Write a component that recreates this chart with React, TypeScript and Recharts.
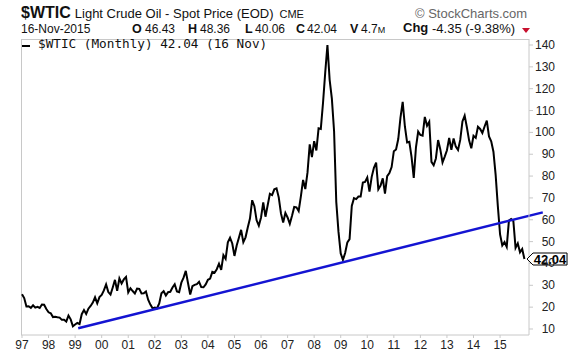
import React from 'react';
import { LineChart, Line, XAxis, YAxis, ReferenceLine, ReferenceDot } from 'recharts';

// month-end closes, Dec 1996 .. Nov 2015 (position 0 = Dec 1996 / start of 1997)
const monthlyCloses = [
  25.92,
  24.15, 20.3, 20.41, 19.68, 20.86, 19.8, 20.14, 19.61, 21.18, 21.08, 19.15, 17.64, // 97
  17.21, 15.44, 15.61, 15.39, 15.2, 14.18, 14.21, 13.39, 16.14, 14.42, 11.22, 12.05, // 98
  12.75, 12.27, 16.76, 18.66, 16.84, 19.29, 20.53, 22.1, 24.51, 21.75, 24.59, 25.6, // 99
  27.64, 30.43, 26.9, 25.74, 29.01, 32.5, 27.43, 33.12, 30.84, 32.7, 33.82, 26.8, // 00
  28.66, 27.39, 26.29, 28.46, 28.37, 26.25, 26.35, 27.2, 23.43, 21.18, 19.44, 19.84, // 01
  19.48, 21.74, 26.31, 27.29, 25.31, 26.86, 27.02, 28.98, 30.45, 27.22, 26.89, 31.2, // 02
  33.51, 36.6, 31.04, 25.8, 29.56, 30.19, 30.54, 31.57, 29.2, 29.11, 30.41, 32.52, // 03
  33.05, 36.16, 35.76, 37.38, 39.88, 37.05, 43.8, 42.12, 49.64, 51.76, 49.13, 43.45, // 04
  48.2, 51.75, 55.4, 49.72, 51.97, 56.5, 60.57, 68.94, 66.24, 59.76, 57.32, 61.04, // 05
  67.92, 61.41, 66.63, 71.88, 71.29, 73.93, 74.4, 70.26, 62.91, 58.73, 63.13, 61.05, // 06
  58.14, 61.79, 65.87, 65.71, 64.01, 70.68, 78.21, 74.04, 81.66, 94.53, 88.71, 95.98, // 07
  91.75, 101.84, 101.58, 113.46, 127.35, 140.0, 124.08, 115.46, 100.64, 68.1, 54.43, 44.6, // 08
  41.68, 44.76, 49.66, 51.12, 66.31, 69.89, 69.45, 70.61, 70.61, 77.0, 77.28, 79.36, // 09
  72.89, 79.66, 83.76, 86.15, 73.97, 75.63, 78.95, 71.92, 79.97, 81.43, 84.11, 91.38, // 10
  92.19, 96.97, 106.72, 113.93, 102.7, 95.42, 95.7, 88.81, 79.2, 93.19, 100.36, 98.83, // 11
  98.48, 107.07, 103.02, 104.87, 86.53, 84.96, 88.06, 96.47, 92.19, 86.24, 88.91, 91.82, // 12
  97.49, 92.05, 97.23, 93.46, 91.97, 96.56, 105.03, 107.65, 102.33, 96.38, 92.72, 98.42, // 13
  97.49, 102.59, 101.58, 99.74, 102.71, 105.37, 98.17, 95.96, 91.16, 80.54, 66.15, 53.27, // 14
  48.24, 49.76, 47.6, 59.63, 60.3, 59.47, 47.12, 49.2, 45.09, 46.59, 42.04, // 15
];

const yearLabels = ['97', '98', '99', '00', '01', '02', '03', '04', '05', '06', '07', '08', '09', '10', '11', '12', '13', '14', '15'];
const priceTicks = [10, 20, 30, 40, 50, 60, 70, 80, 90, 100, 110, 120, 130, 140];

// support line drawn from the 1998 low through the 2009 low
const trendline = [
  { x: 25.4, y: 10.3 },
  { x: 235.3, y: 63.4 },
];

const symbol = '$WTIC';
const title = 'Light Crude Oil - Spot Price (EOD)';
const exchange = 'CME';
const dateText = '16-Nov-2015';
const open = '46.43';
const high = '48.36';
const low = '40.06';
const close = '42.04';
const volume = '4.7';
const change = '-4.35 (-9.38%)';
const lastClose = 42.04;

const data = monthlyCloses.map((value, m) => ({ m, close: value }));
const yearTicks = yearLabels.map((_, k) => k * 12);

const axisColor = '#c8c8c8';
const labelColor = '#222';

function PriceTick(props: any) {
  const { x, y, payload } = props;
  return (
    <text x={x + 20} y={y} dy={4} textAnchor="end" fontSize={12} fill={labelColor}>
      {payload.value}
    </text>
  );
}

function YearTick(props: any) {
  const { x, y, payload } = props;
  return (
    <text x={x} y={y} dy="0.71em" textAnchor="middle" fontSize={12} fill={labelColor}>
      {yearLabels[Math.round(payload.value / 12)]}
    </text>
  );
}

function LastTag(props: any) {
  const { cx, cy } = props;
  const l = cx + 2.6;
  const r = cx + 42.6;
  return (
    <g>
      <polygon
        points={`${l},${cy} ${l + 6},${cy - 6} ${r},${cy - 6} ${r},${cy + 6} ${l + 6},${cy + 6}`}
        fill="#fff"
        stroke="#000"
        strokeWidth={1}
      />
      <text x={(l + 6 + r) / 2} y={cy} dy={4.5} textAnchor="middle" fontSize={13} fontWeight="bold" fill="#000">
        {close}
      </text>
    </g>
  );
}

export default function App() {
  return (
    <div
      style={{
        position: 'relative',
        width: 576,
        height: 356,
        background: '#fff',
        fontFamily: '"Liberation Sans", Arial, sans-serif',
        color: '#111',
        overflow: 'hidden',
      }}
    >
      <style>{'body{margin:0}'}</style>

      {/* header line 1 */}
      <div style={{ position: 'absolute', left: 21, top: 5, display: 'flex', alignItems: 'baseline', whiteSpace: 'nowrap', lineHeight: '16px' }}>
        <span style={{ fontWeight: 'bold', fontSize: 16 }}>{symbol}</span>
        <span style={{ fontSize: 13, marginLeft: 4 }}>{title}</span>
        <span style={{ fontSize: 11, marginLeft: 6 }}>{exchange}</span>
      </div>
      <div style={{ position: 'absolute', left: 415, top: 6, fontSize: 13, lineHeight: '16px', color: '#666', whiteSpace: 'nowrap' }}>
        © StockCharts.com
      </div>

      {/* header line 2 */}
      <div style={{ position: 'absolute', left: 21, top: 21, fontSize: 12, lineHeight: '16px', whiteSpace: 'nowrap' }}>{dateText}</div>
      {[
        ['O', open, 132, 145],
        ['H', high, 188, 200],
        ['L', low, 245, 255],
        ['C', close, 296, 307],
        ['V', '', 350, 361],
      ].map(([k, v, kx, vx]) => (
        <React.Fragment key={k as string}>
          <div style={{ position: 'absolute', left: kx as number, top: 21, fontSize: 12.5, fontWeight: 'bold', lineHeight: '16px' }}>{k}</div>
          {v !== '' && (
            <div style={{ position: 'absolute', left: vx as number, top: 21, fontSize: 12, lineHeight: '16px' }}>{v}</div>
          )}
        </React.Fragment>
      ))}
      <div style={{ position: 'absolute', left: 361, top: 21, fontSize: 12, lineHeight: '16px', whiteSpace: 'nowrap' }}>
        {volume}
        <span style={{ fontSize: 9 }}>M</span>
      </div>
      <div style={{ position: 'absolute', left: 403, top: 20, fontSize: 13, fontWeight: 'bold', lineHeight: '16px' }}>Chg</div>
      <div style={{ position: 'absolute', left: 432, top: 21, fontSize: 13, lineHeight: '16px', whiteSpace: 'nowrap' }}>{change}</div>
      <svg style={{ position: 'absolute', left: 522, top: 28 }} width={9} height={6}>
        <polygon points="0,0 8,0 4,5" fill="#c8102e" />
      </svg>

      {/* plot frame (top / left) */}
      <div
        style={{
          position: 'absolute',
          left: 21,
          top: 39,
          width: 508,
          height: 296,
          borderTop: `1px solid ${axisColor}`,
          borderLeft: `1px solid ${axisColor}`,
          boxSizing: 'border-box',
        }}
      />

      <div style={{ position: 'absolute', left: 0, top: 0 }}>
        <LineChart width={576} height={356} data={data} margin={{ top: 39, right: 0, bottom: 0, left: 21 }}>
          <XAxis
            type="number"
            dataKey="m"
            domain={[-0.45, 229.07]}
            ticks={yearTicks}
            interval={0}
            allowDataOverflow
            height={21}
            tickSize={3}
            tickMargin={2}
            stroke={axisColor}
            tick={<YearTick />}
          />
          <YAxis
            orientation="right"
            width={47}
            domain={[7.25, 142.75]}
            ticks={priceTicks}
            interval={0}
            allowDataOverflow
            tickSize={4}
            tickMargin={2}
            stroke={axisColor}
            tick={<PriceTick />}
          />
          <Line type="linear" dataKey="close" stroke="#000" strokeWidth={2} dot={false} isAnimationActive={false} />
          <ReferenceLine segment={trendline} stroke="#1414d2" strokeWidth={2.5} ifOverflow="visible" />
          <ReferenceDot x={monthlyCloses.length - 1} y={lastClose} ifOverflow="visible" shape={<LastTag />} />
        </LineChart>
      </div>

      {/* legend */}
      <div style={{ position: 'absolute', left: 22, top: 45, width: 8, height: 2, background: '#000' }} />
      <div
        style={{
          position: 'absolute',
          left: 38,
          top: 37,
          fontFamily: '"DejaVu Sans Mono", monospace',
          fontSize: 12.7,
          lineHeight: '14px',
          whiteSpace: 'pre',
        }}
      >
        {`${symbol} (Monthly) ${close} (16 Nov)`}
      </div>
    </div>
  );
}
